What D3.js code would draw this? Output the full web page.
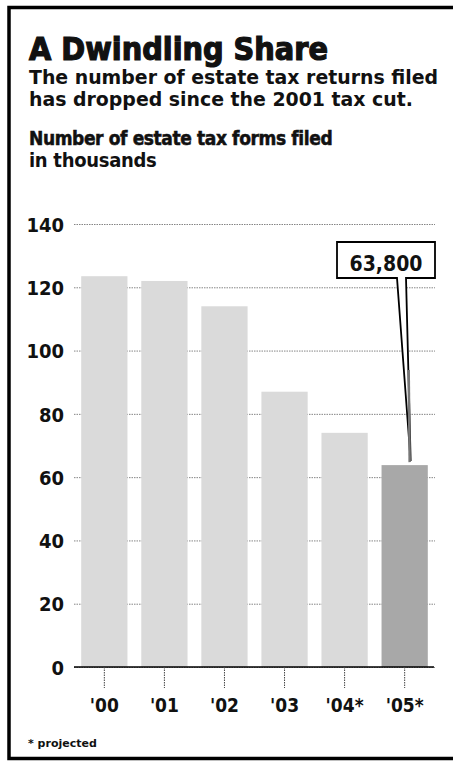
<!DOCTYPE html>
<html>
  <head>
    <meta charset="UTF-8" />
    <script src="https://cdnjs.cloudflare.com/ajax/libs/d3/7.8.5/d3.min.js"></script>
    <style>
      body { margin: 0; background: #fff; }
      text { font-family: "DejaVu Sans", sans-serif; fill: #111; }
    </style>
  </head>
  <body>
    <svg id="chart" width="453" height="762"></svg>
    <script>
      const years = ["'00", "'01", "'02", "'03", "'04*", "'05*"];
      const filed = [123.5, 122, 114, 87, 74, 63.8];
      const yTicks = [0, 20, 40, 60, 80, 100, 120, 140];
      const calloutLabel = "63,800";

      const light = "#dadada",
        dark = "#a8a8a8";

      const svg = d3.select("#chart");

      // frame (open on the right)
      svg
        .append("path")
        .attr("d", "M453,7.5 H9 V758.5 H453")
        .attr("fill", "none")
        .attr("stroke", "#000")
        .attr("stroke-width", 3.5);

      // headings
      svg
        .append("text")
        .attr("x", 29)
        .attr("y", 60)
        .style("font-size", "32px")
        .style("font-weight", "bold")
        .style("font-stretch", "condensed")
        .style("stroke", "#111")
        .style("stroke-width", "1.2px")
        .text("A Dwindling Share");

      const sub = ["The number of estate tax returns filed", "has dropped since the 2001 tax cut."];
      svg
        .selectAll("text.sub")
        .data(sub)
        .enter()
        .append("text")
        .attr("class", "sub")
        .attr("x", 29)
        .attr("y", (d, i) => 84 + i * 22)
        .style("font-size", "18.9px")
        .style("font-weight", "600")
        .text(d => d);

      svg
        .append("text")
        .attr("x", 29)
        .attr("y", 145)
        .style("font-size", "19px")
        .style("font-weight", "bold")
        .style("font-stretch", "condensed")
        .style("letter-spacing", "-0.4px")
        .style("stroke", "#111")
        .style("stroke-width", "0.5px")
        .text("Number of estate tax forms filed");
      svg
        .append("text")
        .attr("x", 29)
        .attr("y", 167)
        .style("font-size", "20px")
        .style("font-weight", "bold")
        .style("font-stretch", "condensed")
        .style("letter-spacing", "-0.3px")
        .text("in thousands");

      const x = d3
        .scaleBand()
        .domain(years)
        .range([74, 435])
        .paddingInner(0.23)
        .paddingOuter(0.12);
      const y = d3
        .scaleLinear()
        .domain([0, 140])
        .range([667, 224]);

      // gridlines + y labels
      const yAxis = d3
        .axisLeft(y)
        .tickValues(yTicks)
        .tickSize(-361)
        .tickPadding(10);
      const yG = svg
        .append("g")
        .attr("transform", "translate(74,0)")
        .call(yAxis);
      yG.select(".domain").remove();
      yG.selectAll(".tick line")
        .attr("stroke", "#666")
        .attr("stroke-width", 0.8)
        .attr("stroke-dasharray", "1.5,1");
      yG.selectAll(".tick text")
        .attr("x", -10)
        .attr("dy", "0.36em")
        .style("font-size", "20px")
        .style("font-weight", "bold")
        .style("font-stretch", "condensed")
        .style("font-family", "DejaVu Sans")
        .attr("fill", "#111");

      // bars
      svg
        .selectAll("rect.bar")
        .data(filed)
        .enter()
        .append("rect")
        .attr("class", "bar")
        .attr("x", (d, i) => x(years[i]))
        .attr("y", d => y(d))
        .attr("width", x.bandwidth())
        .attr("height", d => y(0) - y(d))
        .attr("fill", (d, i) => (i === filed.length - 1 ? dark : light));

      // baseline + x labels
      const xAxis = d3
        .axisBottom(x)
        .tickSize(21)
        .tickPadding(11);
      const xG = svg
        .append("g")
        .attr("transform", `translate(0,${y(0)})`)
        .call(xAxis);
      xG.select(".domain")
        .attr("stroke", "#000")
        .attr("stroke-width", 1.5)
        .attr("d", "M74,0H434");
      xG.selectAll(".tick line")
        .attr("stroke", "#444")
        .attr("stroke-width", 1)
        .attr("stroke-dasharray", "1.5,1");
      xG.selectAll(".tick text")
        .style("font-size", "19px")
        .style("font-weight", "bold")
        .style("font-stretch", "condensed")
        .style("font-family", "DejaVu Sans")
        .attr("fill", "#111");

      // callout
      const last = filed.length - 1;
      const cx = x(years[last]) + x.bandwidth() / 2 + 5;
      const boxTop = 242,
        boxBot = 278,
        boxL = 337,
        boxR = 435;
      svg
        .append("path")
        .attr(
          "d",
          `M${boxL},${boxTop}H${boxR}V${boxBot}H406L${cx + 1},${y(filed[last]) - 4}L397,${boxBot}H${boxL}Z`
        )
        .attr("fill", "#fff")
        .attr("stroke", "#000")
        .attr("stroke-width", 1.8);
      svg
        .append("line")
        .attr("x1", cx - 1)
        .attr("y1", 370)
        .attr("x2", cx)
        .attr("y2", y(filed[last]) - 3)
        .attr("stroke", "#777")
        .attr("stroke-width", 2.5);
      svg
        .append("text")
        .attr("x", (boxL + boxR) / 2)
        .attr("y", 271)
        .attr("text-anchor", "middle")
        .style("font-size", "21px")
        .style("font-weight", "bold")
        .style("font-stretch", "condensed")
        .text(calloutLabel);

      // footnote
      svg
        .append("text")
        .attr("x", 28)
        .attr("y", 747)
        .style("font-size", "11px")
        .style("font-weight", "bold")
        .text("* projected");
    </script>
  </body>
</html>
